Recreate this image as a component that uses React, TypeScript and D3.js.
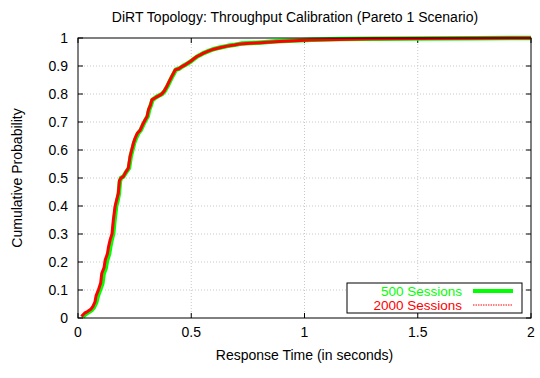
import React from "react";
import * as d3 from "d3";

const W = 540;
const H = 378;
const margin = { left: 78, right: 9, top: 38, bottom: 60 };

const titleText = "DiRT Topology: Throughput Calibration (Pareto 1 Scenario)";
const xLabel = "Response Time (in seconds)";
const yLabel = "Cumulative Probability";

const xTicks = [0, 0.5, 1, 1.5, 2];
const xTickLabels = ["0", "0.5", "1", "1.5", "2"];
const yTicks = [0, 0.1, 0.2, 0.3, 0.4, 0.5, 0.6, 0.7, 0.8, 0.9, 1];
const yTickLabels = ["0", "0.1", "0.2", "0.3", "0.4", "0.5", "0.6", "0.7", "0.8", "0.9", "1"];

const seriesNames = ["500 Sessions", "2000 Sessions"];

// 500 Sessions (green)
const greenTime = [0.02, 0.035, 0.045, 0.06, 0.07, 0.08, 0.087, 0.097, 0.107, 0.113, 0.122, 0.128, 0.137, 0.142, 0.148, 0.155, 0.161, 0.168, 0.174, 0.18, 0.185, 0.19, 0.2, 0.212, 0.225, 0.233, 0.24, 0.248, 0.256, 0.266, 0.277, 0.288, 0.299, 0.308, 0.314, 0.322, 0.329, 0.34, 0.35, 0.362, 0.372, 0.383, 0.395, 0.406, 0.417, 0.425, 0.432, 0.448, 0.462, 0.478, 0.499, 0.513, 0.528, 0.543, 0.557, 0.578, 0.602, 0.633, 0.662, 0.694, 0.72, 0.765, 0.81, 0.875, 0.96, 1.035, 1.16, 1.31, 1.5, 1.75, 2.0];
const greenProb = [0.004, 0.015, 0.02, 0.028, 0.038, 0.055, 0.078, 0.1, 0.122, 0.158, 0.178, 0.205, 0.228, 0.253, 0.278, 0.3, 0.348, 0.398, 0.418, 0.443, 0.488, 0.5, 0.505, 0.52, 0.536, 0.578, 0.6, 0.626, 0.643, 0.66, 0.671, 0.691, 0.708, 0.721, 0.744, 0.761, 0.779, 0.786, 0.791, 0.796, 0.801, 0.811, 0.828, 0.846, 0.864, 0.876, 0.887, 0.891, 0.899, 0.906, 0.917, 0.926, 0.935, 0.941, 0.947, 0.954, 0.961, 0.967, 0.972, 0.976, 0.98, 0.982, 0.984, 0.988, 0.991, 0.994, 0.996, 0.997, 0.998, 0.999, 1.0];

// 2000 Sessions (red)
const redTime = [0.015, 0.03, 0.04, 0.055, 0.065, 0.075, 0.08, 0.09, 0.1, 0.105, 0.115, 0.12, 0.13, 0.135, 0.142, 0.15, 0.156, 0.164, 0.17, 0.178, 0.183, 0.19, 0.2, 0.21, 0.222, 0.23, 0.237, 0.245, 0.252, 0.262, 0.274, 0.285, 0.296, 0.305, 0.311, 0.32, 0.326, 0.338, 0.348, 0.36, 0.37, 0.38, 0.392, 0.403, 0.414, 0.422, 0.429, 0.445, 0.459, 0.475, 0.496, 0.51, 0.525, 0.54, 0.554, 0.575, 0.599, 0.63, 0.658, 0.69, 0.717, 0.76, 0.805, 0.87, 0.953, 1.027, 1.15, 1.3, 1.5, 1.75, 2.0];
const redProb = [0.005, 0.018, 0.022, 0.03, 0.04, 0.058, 0.08, 0.1, 0.125, 0.16, 0.18, 0.207, 0.23, 0.255, 0.28, 0.3, 0.35, 0.4, 0.42, 0.445, 0.49, 0.5, 0.505, 0.52, 0.535, 0.577, 0.6, 0.625, 0.642, 0.66, 0.67, 0.69, 0.707, 0.72, 0.743, 0.76, 0.779, 0.785, 0.79, 0.795, 0.8, 0.81, 0.827, 0.845, 0.863, 0.875, 0.886, 0.89, 0.898, 0.905, 0.916, 0.925, 0.934, 0.94, 0.946, 0.953, 0.96, 0.966, 0.971, 0.975, 0.979, 0.981, 0.983, 0.987, 0.99, 0.993, 0.995, 0.997, 0.998, 0.999, 1.0];

const FONT = "'Liberation Sans', Arial, Helvetica, sans-serif";

export default function App() {
  const x = d3.scaleLinear().domain([0, 2]).range([margin.left, W - margin.right]);
  const y = d3.scaleLinear().domain([0, 1]).range([H - margin.bottom, margin.top]);
  const x0 = x(0), x1 = x(2), y0 = y(0), y1 = y(1);

  const line = d3
    .line<[number, number]>()
    .x((d) => x(d[0]))
    .y((d) => y(d[1]));

  const greenData: [number, number][] = greenTime.map((t, i) => [t, greenProb[i]]);
  const redData: [number, number][] = redTime.map((t, i) => [t, redProb[i]]);

  const tickLen = 5;

  // legend geometry
  const lg = { x: 347, y: 283, w: 175, h: 30 };

  return (
    <svg
      width={W}
      height={H}
      style={{ position: "absolute", left: 0, top: 0, background: "#fff" }}
      fontFamily={FONT}
    >
      <rect x={0} y={0} width={W} height={H} fill="#fff" />
      {/* grid */}
      {yTicks.slice(1, -1).map((v) => (
        <line key={"gy" + v} x1={x0} x2={x1} y1={y(v)} y2={y(v)} stroke="#c8c8c8" strokeWidth={1} strokeDasharray="1,2" />
      ))}
      {xTicks.slice(1, -1).map((v) => (
        <line key={"gx" + v} x1={x(v)} x2={x(v)} y1={y0} y2={y1} stroke="#c8c8c8" strokeWidth={1} strokeDasharray="1,2" />
      ))}
      {/* ticks */}
      {yTicks.map((v) => (
        <g key={"ty" + v}>
          <line x1={x0} x2={x0 + tickLen} y1={y(v)} y2={y(v)} stroke="#000" />
          <line x1={x1} x2={x1 - tickLen} y1={y(v)} y2={y(v)} stroke="#000" />
        </g>
      ))}
      {xTicks.map((v) => (
        <g key={"tx" + v}>
          <line x1={x(v)} x2={x(v)} y1={y0} y2={y0 - tickLen} stroke="#000" />
          <line x1={x(v)} x2={x(v)} y1={y1} y2={y1 + tickLen} stroke="#000" />
        </g>
      ))}
      {/* curves */}
      <path d={line(greenData) || ""} fill="none" stroke="#00ff00" strokeWidth={4.5} strokeLinejoin="round" />
      <path d={line(redData) || ""} fill="none" stroke="#ff0000" strokeWidth={3} strokeLinejoin="round" />
      {/* frame */}
      <rect x={x0} y={y1} width={x1 - x0} height={y0 - y1} fill="none" stroke="#000" strokeWidth={1} />
      {/* tick labels */}
      {yTicks.map((v, i) => (
        <text key={"ly" + v} x={68} y={y(v)} dy="0.35em" textAnchor="end" fontSize={14} fill="#000">
          {yTickLabels[i]}
        </text>
      ))}
      {xTicks.map((v, i) => (
        <text key={"lx" + v} x={x(v)} y={337} textAnchor="middle" fontSize={14} fill="#000">
          {xTickLabels[i]}
        </text>
      ))}
      {/* labels */}
      <text x={295} y={22} textAnchor="middle" fontSize={14} fill="#000">
        {titleText}
      </text>
      <text x={(x0 + x1) / 2} y={360} textAnchor="middle" fontSize={14} fill="#000">
        {xLabel}
      </text>
      <text
        transform={`translate(22,${(y0 + y1) / 2}) rotate(-90)`}
        textAnchor="middle"
        fontSize={14}
        fill="#000"
      >
        {yLabel}
      </text>
      {/* legend */}
      <rect x={lg.x} y={lg.y} width={lg.w} height={lg.h} fill="#fff" stroke="#000" strokeWidth={1} />
      <text x={462} y={295.5} textAnchor="end" fontSize={13.5} fill="#00ff00">
        {seriesNames[0]}
      </text>
      <line x1={473} x2={513} y1={291} y2={291} stroke="#00ff00" strokeWidth={4} />
      <text x={462} y={310} textAnchor="end" fontSize={13.5} fill="#ff0000">
        {seriesNames[1]}
      </text>
      <line x1={473} x2={513} y1={305} y2={305} stroke="#ff8080" strokeWidth={2} strokeDasharray="1.5,1" />
    </svg>
  );
}
